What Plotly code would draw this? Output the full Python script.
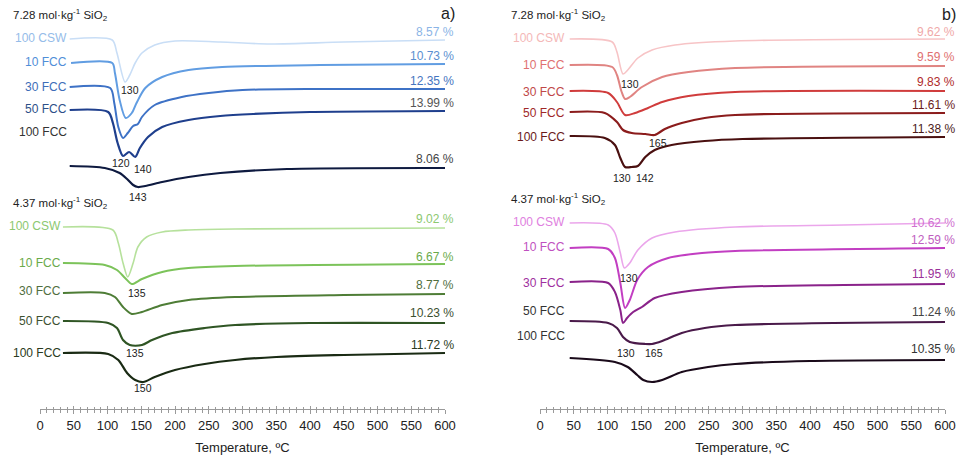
import plotly.graph_objects as go

W, H = 966, 459

# ---------------- DATA (temperature in °C, DTG signal in a.u.; 0 = curve baseline) ----------------
# Panel a) upper block : 7.28 mol·kg-1 SiO2
a1_csw_T = [44, 107, 114, 126, 133, 141, 151, 170, 200, 267, 341, 450, 600]
a1_csw_v = [0, -1, -14, -43, -36, -24, -14, -6, -2, -3, -5, -3, -1]
a1_10_T = [46, 107, 111, 118, 127, 136, 143, 156, 181, 220, 270, 415, 600]
a1_10_v = [0, 0, -10, -37, -55, -50, -40, -25, -14, -7, -4, -2, -1]
a1_30_T = [44, 104, 110, 116, 123, 130, 138, 145, 151, 170, 210, 250, 300, 415, 600]
a1_30_v = [0, -1, -16, -40, -51, -46, -39, -37, -30, -18, -10, -6, -3, -2, -2]
a1_50_T = [44, 101, 108, 115, 123, 132, 141, 148, 160, 181, 220, 267, 316, 400, 600]
a1_50_v = [0, -2, -13, -33, -46, -42, -47, -38, -27, -17, -10, -6, -4, -2, -1]
a1_100_T = [44, 96, 118, 129, 138, 145, 156, 181, 220, 267, 366, 600]
a1_100_v = [0, -2, -7, -13, -19, -21, -20, -16, -11, -7, -3, -2]
a1_offset = [370, 346, 322, 299, 243]

# Panel a) lower block : 4.37 mol·kg-1 SiO2
a2_csw_T = [34, 108, 116, 123, 130, 138, 145, 158, 181, 220, 289, 600]
a2_csw_v = [0, -3, -16, -36, -50, -36, -20, -10, -5, -3, -2, -1]
a2_10_T = [34, 96, 114, 126, 136, 151, 181, 220, 289, 600]
a2_10_v = [0, -2, -7, -15, -21, -16, -9, -5, -3, -1]
a2_30_T = [34, 96, 111, 123, 136, 151, 181, 220, 289, 450, 600]
a2_30_v = [0, 0, -4, -14, -21, -19, -12, -7, -4, -2, -1]
a2_50_T = [34, 101, 114, 123, 133, 151, 166, 196, 244, 289, 400, 600]
a2_50_v = [0, -2, -7, -19, -24, -24, -19, -12, -7, -4, -2, -2]
a2_100_T = [34, 101, 116, 129, 141, 153, 170, 200, 244, 289, 350, 450, 600]
a2_100_v = [0, -1, -7, -20, -27, -29, -24, -17, -11, -7, -4, -2, 0]
a2_offset = [182, 146, 116, 88, 56]

# Panel b) upper block : 7.28 mol·kg-1 SiO2
b1_csw_T = [44, 107, 114, 123, 130, 145, 166, 200, 289, 600]
b1_csw_v = [0, -3, -13, -35, -31, -19, -11, -6, -2, 0]
b1_10_T = [44, 107, 114, 121, 126, 133, 151, 181, 220, 289, 600]
b1_10_v = [0, -2, -10, -27, -34, -32, -22, -12, -7, -3, -1]
b1_30_T = [44, 101, 114, 126, 141, 160, 181, 220, 289, 600]
b1_30_v = [0, -2, -11, -24, -22, -17, -11, -5, -1, 0]
b1_50_T = [44, 96, 114, 123, 136, 156, 170, 185, 210, 244, 289, 600]
b1_50_v = [0, -1, -10, -18, -21, -22, -23, -17, -11, -6, -3, -1]
b1_100_T = [44, 96, 111, 119, 126, 136, 145, 156, 170, 195, 244, 300, 600]
b1_100_v = [0, -2, -9, -22, -31, -31, -30, -21, -14, -9, -5, -3, -1]
b1_offset = [370, 344, 318, 297, 273]

# Panel b) lower block : 4.37 mol·kg-1 SiO2
b2_csw_T = [44, 101, 111, 119, 125, 133, 145, 166, 200, 289, 450, 600]
b2_csw_v = [0, -2, -10, -30, -45, -40, -27, -15, -9, -4, -2, 0]
b2_10_T = [44, 101, 111, 119, 126, 133, 144, 160, 190, 240, 289, 600]
b2_10_v = [0, -1, -10, -35, -60, -52, -32, -19, -10, -5, -3, 0]
b2_30_T = [44, 101, 111, 119, 123, 129, 138, 151, 170, 210, 289, 450, 600]
b2_30_v = [0, -1, -10, -28, -41, -36, -30, -25, -16, -10, -5, -3, -2]
b2_50_T = [44, 101, 114, 123, 133, 156, 166, 181, 210, 244, 289, 600]
b2_50_v = [0, -2, -7, -16, -21, -23, -23, -20, -12, -7, -4, -1]
b2_100_T = [44, 111, 130, 144, 153, 166, 181, 210, 249, 289, 400, 600]
b2_100_v = [0, -4, -9, -17, -22, -24, -22, -14, -9, -6, -3, -2]
b2_offset = [186, 161, 127, 88, 51]

series_names = ["100 CSW", "10 FCC", "30 FCC", "50 FCC", "100 FCC"]
a1_pct = ["8.57", "10.73", "12.35", "13.99", "8.06"]
a2_pct = ["9.02", "6.67", "8.77", "10.23", "11.72"]
b1_pct = ["9.62", "9.59", "9.83", "11.61", "11.38"]
b2_pct = ["10.62", "12.59", "11.95", "11.24", "10.35"]
a1_peaks = ["130", "120", "140", "143"]
a2_peaks = ["135", "135", "150"]
b1_peaks = ["130", "165", "130", "142"]
b2_peaks = ["130", "130", "165"]
tick_vals = list(range(0, 601, 50))
tick_text = [str(t) for t in tick_vals]

# ---------------- STYLE / LAYOUT ----------------
a1_line = ["#c9def6", "#619de2", "#3e72c6", "#1f3f8d", "#0e1a40"]
a1_lab = ["#95bce9", "#4f8ed8", "#3d6db8", "#2d4f88", "#333333"]
a1_pcol = ["#8ab4e6", "#5a8fd0", "#4575c0", "#555555", "#444444"]
a2_line = ["#b6e19c", "#7cc35a", "#4e7d36", "#2f5524", "#1a2b14"]
a2_lab = ["#8cc870", "#6aaa4a", "#4f6e3e", "#3c5030", "#2a3a20"]
a2_pcol = ["#8cc870", "#6aaa4a", "#4f6e3e", "#3c5030", "#2a3a20"]
b1_line = ["#f7c4c6", "#e08482", "#d03c3c", "#8b1c1c", "#4a1010"]
b1_lab = ["#f4b8b8", "#e07070", "#c04848", "#a02828", "#6a1a1a"]
b1_pcol = ["#f0a8a8", "#e07070", "#b02a2a", "#6a1a1a", "#4a1a1a"]
b2_line = ["#eba6eb", "#c23ec2", "#8a228a", "#4a1a4a", "#1a0a1a"]
b2_lab = ["#e080e0", "#c050c0", "#a030a0", "#333333", "#333333"]
b2_pcol = ["#d070d0", "#c060c0", "#9a309a", "#444444", "#333333"]
widths = [1.6, 2, 2, 2.2, 2.2]

FONT = "Liberation Sans, Arial, sans-serif"
fig = go.Figure()

blocks = [
    ("x", "y", [(a1_csw_T, a1_csw_v), (a1_10_T, a1_10_v), (a1_30_T, a1_30_v), (a1_50_T, a1_50_v), (a1_100_T, a1_100_v)], a1_offset, a1_line),
    ("x", "y", [(a2_csw_T, a2_csw_v), (a2_10_T, a2_10_v), (a2_30_T, a2_30_v), (a2_50_T, a2_50_v), (a2_100_T, a2_100_v)], a2_offset, a2_line),
    ("x2", "y2", [(b1_csw_T, b1_csw_v), (b1_10_T, b1_10_v), (b1_30_T, b1_30_v), (b1_50_T, b1_50_v), (b1_100_T, b1_100_v)], b1_offset, b1_line),
    ("x2", "y2", [(b2_csw_T, b2_csw_v), (b2_10_T, b2_10_v), (b2_30_T, b2_30_v), (b2_50_T, b2_50_v), (b2_100_T, b2_100_v)], b2_offset, b2_line),
]
for xa, ya, curves, offs, cols in blocks:
    for i, ((T, v), off) in enumerate(zip(curves, offs)):
        fig.add_trace(go.Scatter(
            x=T, y=[off + s for s in v], mode="lines", xaxis=xa, yaxis=ya,
            line=dict(color=cols[i], width=widths[i], shape="spline", smoothing=0.8),
            showlegend=False, hoverinfo="skip", name=series_names[i]))

annotations = []


def ann(text, px, py, xanchor="right", size=12, color="#333333"):
    annotations.append(dict(text=text, x=px / W, y=1 - py / H, xref="paper", yref="paper",
                            xanchor=xanchor, yanchor="middle", showarrow=False,
                            font=dict(family=FONT, size=size, color=color)))


mol_hi = "7.28 mol·kg<sup>-1</sup> SiO<sub>2</sub>"
mol_lo = "4.37 mol·kg<sup>-1</sup> SiO<sub>2</sub>"
ann(mol_hi, 11, 15, "left", 11.5, "#222222")
ann(mol_lo, 11, 203, "left", 11.5, "#222222")
ann(mol_hi, 509, 15, "left", 11.5, "#222222")
ann(mol_lo, 509, 199, "left", 11.5, "#222222")
ann("a)", 457, 14, "right", 16, "#222222")
ann("b)", 958, 15, "right", 16, "#222222")

# curve names (right edge px, centre py)
a1_name_py = [38, 62, 87, 109, 132]
a2_name_py = [226, 263, 291, 321, 353]
b1_name_py = [38, 65, 92, 113, 137]
b2_name_py = [222, 247, 283, 311, 336]
for names_py, xr, cols in [(a1_name_py, 69, a1_lab), (a2_name_py, 63, a2_lab),
                           (b1_name_py, 567, b1_lab), (b2_name_py, 567, b2_lab)]:
    for i, py in enumerate(names_py):
        ann(series_names[i], xr, py, "right", 12, cols[i])

# percentage labels
a1_pct_py = [32, 56, 81, 103, 159]
a2_pct_py = [219, 257, 285, 313, 345]
b1_pct_py = [32, 57, 82, 105, 129]
b2_pct_py = [223, 240, 274, 312, 349]
for pcts, pys, xr, cols in [(a1_pct, a1_pct_py, 456, a1_pcol), (a2_pct, a2_pct_py, 456, a2_pcol),
                            (b1_pct, b1_pct_py, 957, b1_pcol), (b2_pct, b2_pct_py, 957, b2_pcol)]:
    for i, (p, py) in enumerate(zip(pcts, pys)):
        ann(p + " %", xr, py, "right", 12, cols[i])

# peak temperature labels (centre px, py)
a1_peak_pos = [(130, 90), (121, 163), (143, 169), (138, 197)]
a2_peak_pos = [(137, 293), (135, 353), (143, 388)]
b1_peak_pos = [(630, 84), (658, 143), (622, 178), (645, 178)]
b2_peak_pos = [(629, 278), (626, 353), (654, 353)]
for labs, poss in [(a1_peaks, a1_peak_pos), (a2_peaks, a2_peak_pos),
                   (b1_peaks, b1_peak_pos), (b2_peaks, b2_peak_pos)]:
    for lab, (px, py) in zip(labs, poss):
        ann(lab, px, py, "center", 10.5, "#222222")

axis_common = dict(range=[0, 600], showline=True, linecolor="#9a9a9a", linewidth=1,
                   ticks="outside", ticklen=4, tickcolor="#9a9a9a", tickwidth=1,
                   tickvals=tick_vals, ticktext=tick_text, automargin=False,
                   tickfont=dict(family=FONT, size=13, color="#222222"),
                   minor=dict(dtick=10, tick0=0, ticks="outside", ticklen=2.5, tickcolor="#9a9a9a"),
                   showgrid=False, zeroline=False, fixedrange=True,
                   title=dict(text="Temperature, ºC", font=dict(family=FONT, size=13, color="#222222"),
                              standoff=11))
inner_common = dict(range=[0, 600], showline=False, ticks="inside", ticklen=3, tickcolor="#9a9a9a",
                    tickvals=tick_vals, showticklabels=False, automargin=False,
                    minor=dict(dtick=10, tick0=0, ticks="inside", ticklen=2, tickcolor="#9a9a9a"),
                    showgrid=False, zeroline=False, fixedrange=True)
ydom = [50 / H, 1]
y_common = dict(range=[0, 409], visible=False, fixedrange=True, domain=ydom, automargin=False)

fig.update_layout(
    template="none",
    width=W, height=H, autosize=False, margin=dict(l=0, r=0, t=0, b=0, pad=0),
    paper_bgcolor="white", plot_bgcolor="white",
    xaxis=dict(domain=[40 / W, 445 / W], anchor="y", **axis_common),
    yaxis=dict(anchor="x", **y_common),
    xaxis2=dict(domain=[540 / W, 945 / W], anchor="y2", **axis_common),
    yaxis2=dict(anchor="x2", **y_common),
    xaxis3=dict(overlaying="x", anchor="y", **inner_common),
    xaxis4=dict(overlaying="x2", anchor="y2", **inner_common),
    annotations=annotations,
    font=dict(family=FONT),
    showlegend=False,
)
# invisible traces to activate overlay axes
fig.add_trace(go.Scatter(x=[0], y=[0], xaxis="x3", yaxis="y", mode="markers",
                         marker=dict(opacity=0), showlegend=False, hoverinfo="skip"))
fig.add_trace(go.Scatter(x=[0], y=[0], xaxis="x4", yaxis="y2", mode="markers",
                         marker=dict(opacity=0), showlegend=False, hoverinfo="skip"))

fig.write_html("out.html")
